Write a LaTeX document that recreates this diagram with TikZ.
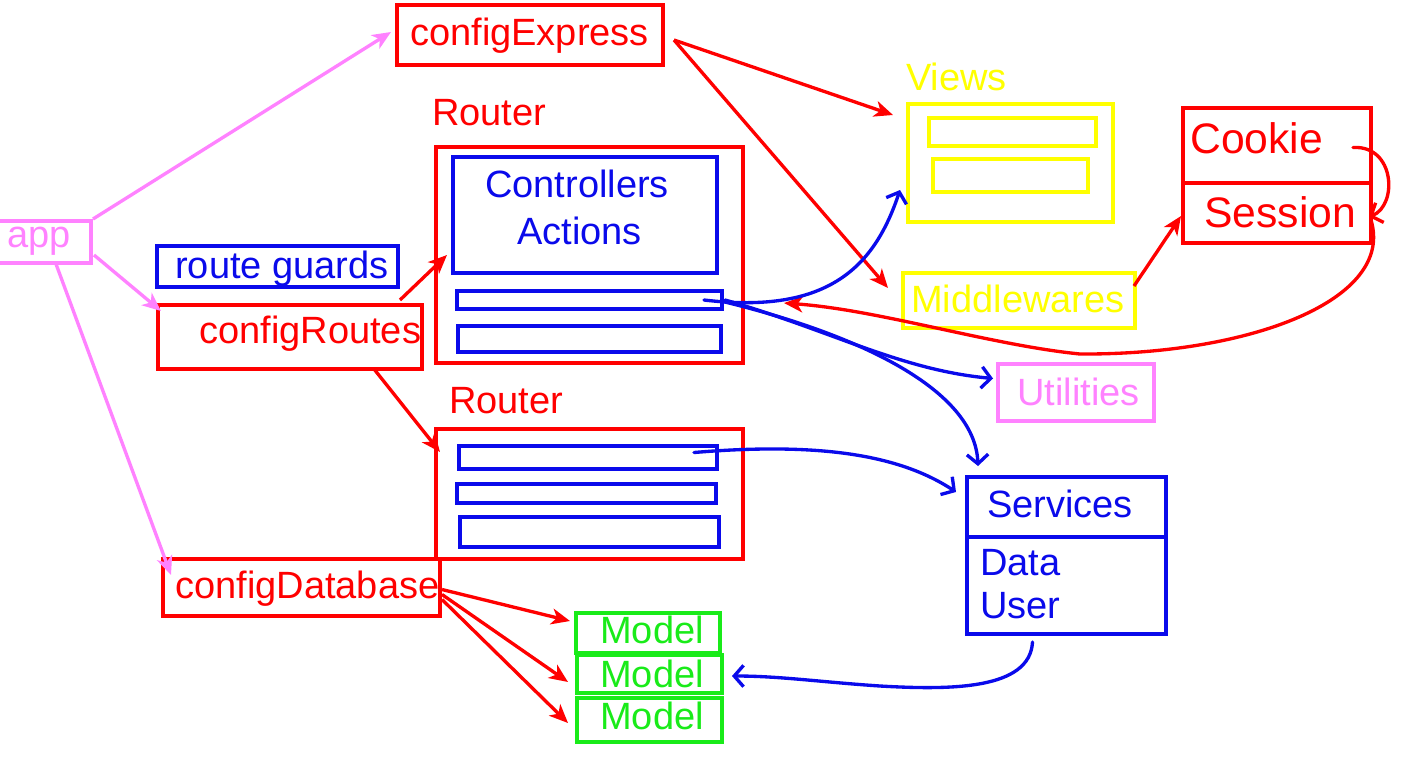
\documentclass[tikz,border=0pt]{standalone}
\usepackage{fontspec}
\setmainfont{Liberation Sans}
\usetikzlibrary{arrows.meta,fit,calc}
\definecolor{penred}{RGB}{255,0,0}
\definecolor{penblue}{RGB}{10,10,235}
\definecolor{penpink}{RGB}{255,130,255}
\definecolor{penyellow}{RGB}{255,255,0}
\definecolor{pengreen}{RGB}{25,235,25}
\tikzset{
  box/.style={draw, line width=3pt, inner sep=0pt},
  lbl/.style={anchor=base west, inner sep=0pt, font=\fontsize{28.5}{34}\selectfont},
  biglbl/.style={lbl, font=\fontsize{32}{38}\selectfont},
  link/.style={line width=2.5pt, -{Stealth[length=14pt,width=12pt,inset=4pt]}},
  pen/.style={line width=2.5pt, line cap=round, line join=round, -{Straight Barb[length=7pt,width=16pt]}},
}
\begin{document}
\begin{tikzpicture}[x=0.75pt,y=0.75pt,yscale=-1,xscale=1]
\useasboundingbox (0,0) rectangle (1418,765);
\fill[white] (0,0) rectangle (1418,765);

%Shape: Rectangle [app]
\node (app) [box, draw=penpink, fit={(-3,221) (91,263)}] {};
%Shape: Rectangle [configExpress]
\node (express) [box, draw=penred, fit={(397,5) (663,65)}] {};
%Shape: Rectangle [route guards]
\node (guards) [box, draw=penblue, fit={(157,246) (398,287)}] {};
%Shape: Rectangle [configRoutes]
\node (routes) [box, draw=penred, fit={(158,305) (422,369)}] {};
%Shape: Rectangle [configDatabase]
\node (database) [box, draw=penred, fit={(163,559) (440,616)}] {};

%Shape: Rectangle [first router]
\node (routerA) [box, draw=penred, fit={(436,147) (743,363)}] {};
\node (ctrl) [box, draw=penblue, fit={(453,157) (717,273)}] {};
\node (barA1) [box, draw=penblue, fit={(457,291) (722,309)}] {};
\node (barA2) [box, draw=penblue, fit={(458,326) (721,352)}] {};

%Shape: Rectangle [second router]
\node (routerB) [box, draw=penred, fit={(436,429) (743,559)}] {};
\node (barB1) [box, draw=penblue, fit={(459,446) (717,469)}] {};
\node (barB2) [box, draw=penblue, fit={(457,484) (716,503)}] {};
\node (barB3) [box, draw=penblue, fit={(460,517) (719,547)}] {};

%Shape: Rectangle [models]
\node (modelA) [box, draw=pengreen, fit={(576,613) (720,653)}] {};
\node (modelB) [box, draw=pengreen, fit={(577,655) (722,693)}] {};
\node (modelC) [box, draw=pengreen, fit={(577,698) (722,742)}] {};

%Shape: Rectangle [views]
\node (views) [box, draw=penyellow, fit={(908,104) (1113,222)}] {};
\node (viewA) [box, draw=penyellow, fit={(929,118) (1096,146)}] {};
\node (viewB) [box, draw=penyellow, fit={(933,159) (1088,192)}] {};
\node (middle) [box, draw=penyellow, fit={(903,273) (1135,328)}] {};

%Shape: Rectangle [cookie / session]
\node (cookie) [box, draw=penred, fit={(1183,108) (1371,183)}] {};
\node (session) [box, draw=penred, fit={(1183,183) (1371,243)}] {};
\node (utils) [box, draw=penpink, fit={(998,364) (1154,421)}] {};
\node (services) [box, draw=penblue, fit={(967,477) (1166,537)}] {};
\node (servbody) [box, draw=penblue, fit={(967,537) (1166,634)}] {};

% Text Node
\node (appTxt) [lbl, text=penpink] at (7,247) {app};
\node (expressTxt) [lbl, text=penred] at (410,45) {configExpress};
\node (routerATxt) [lbl, text=penred] at (432,125) {Router};
\node (ctrlTxt) [lbl, text=penblue] at (485,197) {Controllers};
\node (actTxt) [lbl, text=penblue] at (517,244) {Actions};
\node (guardsTxt) [lbl, text=penblue] at (175,278) {route guards};
\node (routesTxt) [lbl, text=penred] at (199,343) {configRoutes};
\node (routerBTxt) [lbl, text=penred] at (449,413) {Router};
\node (databaseTxt) [lbl, text=penred] at (175,598) {configDatabase};
\node (modelATxt) [lbl, text=pengreen] at (600,643) {Model};
\node (modelBTxt) [lbl, text=pengreen] at (600,687) {Model};
\node (modelCTxt) [lbl, text=pengreen] at (600,729) {Model};
\node (viewsTxt) [lbl, text=penyellow] at (906,90) {Views};
\node (middleTxt) [lbl, text=penyellow] at (911,312) {Middlewares};
\node (cookieTxt) [biglbl, text=penred] at (1190,153) {Cookie};
\node (sessionTxt) [biglbl, text=penred] at (1204,227) {Session};
\node (utilsTxt) [lbl, text=penpink] at (1017,405) {Utilities};
\node (servicesTxt) [lbl, text=penblue] at (987,517) {Services};
\node (dataTxt) [lbl, text=penblue] at (980,575) {Data};
\node (userTxt) [lbl, text=penblue] at (980,618) {User};

%Straight Lines [app]
\draw [link, draw=penpink] (app.north east) -- ($(express.west)+(-4,-3)$);
\draw [link, draw=penpink] ($(app.south east)+(1,-10)$) -- ($(routes.north west)+(5,8)$);
\draw [link, draw=penpink] ($(app.south)+(12,-1)$) -- ($(database.north west)+(10,18)$);
%Straight Lines [config]
\draw [link, draw=penred] ($(express.east)+(9,5)$) -- ($(views.north west)+(-13,13)$);
\draw [link, draw=penred] ($(express.east)+(9,5)$) -- ($(middle.north west)+(-13,17)$);
\draw [link, draw=penred] ($(routes.north east)+(-24,-3)$) -- ($(ctrl.south west)+(-4,-20)$);
\draw [link, draw=penred] ($(routes.south east)+(-50,-2)$) -- ($(routerB.north west)+(6,25)$);
\draw [link, draw=penred] ($(database.east)+(0,2)$) -- ($(modelA.west)+(-4,-12)$);
\draw [link, draw=penred] ($(database.east)+(0,7)$) -- ($(modelB.west)+(-7,8)$);
\draw [link, draw=penred] ($(database.east)+(0,12)$) -- ($(modelC.west)+(-7,3)$);
\draw [link, draw=penred] ($(middle.north east)+(-3,15)$) -- ($(session.west)+(0,3)$);

%Curve Lines [hand drawn]
\draw [pen, draw=penred] ($(cookie.east)+(-20,2)$) .. controls (1395,145) and (1398,205) .. ($(session.east)+(-4,4)$);
\draw [link, draw=penred, line cap=round] ($(session.east)+(-2,7)$) .. controls (1395,300) and (1250,355) .. (1080,354) .. controls (990,345) and (880,310) .. ($(barA1.east)+(60,3)$);
\draw [pen, draw=penblue] ($(barA1.east)+(-20,0)$) .. controls (830,315) and (875,265) .. ($(views.west)+(-6,27)$);
\draw [pen, draw=penblue] ($(barA1.east)+(1,0)$) .. controls (830,330) and (900,370) .. ($(utils.west)+(-3,-14)$);
\draw [pen, draw=penblue] ($(barA1.east)+(1,2)$) .. controls (860,335) and (975,390) .. ($(services.north west)+(13,-9)$);
\draw [pen, draw=penblue] ($(barB1.east)+(-25,-5)$) .. controls (820,442) and (900,455) .. ($(services.west)+(-9,-15)$);
\draw [pen, draw=penblue] ($(servbody.south)+(-34,6)$) .. controls (1030,690) and (950,690) .. (880,686) .. controls (820,682) and (780,676) .. ($(modelB.east)+(8,2)$);

\end{tikzpicture}
\end{document}
